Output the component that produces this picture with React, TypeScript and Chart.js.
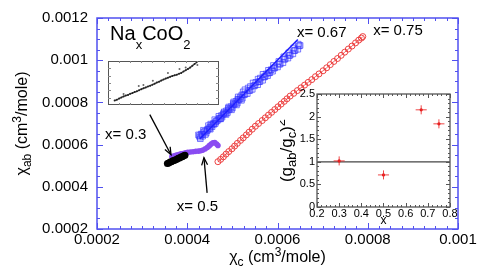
import React, { useEffect, useRef } from 'react';
import { Chart, registerables } from 'chart.js';

Chart.register(...registerables);

const FONT = '"Liberation Sans", Arial, Helvetica, sans-serif';
const FRAME = '#5050f0';
const PURPLE = '#8a4cf2';
const BLUE = 'rgba(45,45,255,0.6)';
const RED = 'rgba(235,50,50,0.9)';

// ---- main plot: chi_ab vs chi_c (cm^3/mole) ----
const xTickValues = [0.0002, 0.0004, 0.0006, 0.0008, 0.001];
const xTickLabels = ['0.0002', '0.0004', '0.0006', '0.0008', '0.001'];
const yTickValues = [0.0002, 0.0004, 0.0006, 0.0008, 0.001, 0.0012];
const yTickLabels = ['0.0002', '0.0004', '0.0006', '0.0008', '0.001', '0.0012'];
const xMinorStep = 0.000025;
const yMinorStep = 0.00005;

// x = 0.3
const chiC30 = [0.000356, 0.000359, 0.000362, 0.000365, 0.000368, 0.000371, 0.000374, 0.000377, 0.00038, 0.000383, 0.000386, 0.000389, 0.000392, 0.000395];
const chiAb30 = [0.000511, 0.000513, 0.000517, 0.000519, 0.000523, 0.000525, 0.000528, 0.000531, 0.000535, 0.000537, 0.000541, 0.000543, 0.000547, 0.00055];

// x = 0.5
const chiC50 = [0.000366, 0.000371, 0.000376, 0.000381, 0.000386, 0.000391, 0.000396, 0.000401, 0.000407, 0.000413, 0.000419, 0.000425, 0.00043, 0.000435, 0.00044, 0.000445, 0.000449, 0.000453, 0.000457, 0.000461, 0.000465, 0.000468];
const chiAb50 = [0.000543, 0.000547, 0.00055, 0.000553, 0.000556, 0.000558, 0.000561, 0.000563, 0.000565, 0.000566, 0.000568, 0.000569, 0.000571, 0.000574, 0.00058, 0.000587, 0.000595, 0.000603, 0.000609, 0.00061, 0.000603, 0.000596];

// x = 0.67
const chiC67 = [0.000428, 0.000431, 0.000425, 0.000434, 0.000437, 0.000442, 0.000436, 0.000445, 0.00045, 0.000447, 0.000455, 0.000458, 0.000452, 0.000463, 0.000461, 0.000468, 0.000473, 0.00047, 0.000477, 0.00048, 0.000484, 0.000482, 0.000489, 0.000492, 0.000495, 0.000492, 0.0005, 0.000503, 0.000506, 0.000503, 0.000511, 0.000514, 0.000517, 0.000513, 0.000522, 0.000526, 0.000528, 0.000524, 0.000533, 0.000537, 0.000539, 0.000535, 0.000544, 0.000548, 0.00055, 0.000546, 0.000556, 0.000559, 0.000561, 0.000557, 0.000567, 0.00057, 0.000572, 0.000568, 0.000578, 0.000581, 0.000583, 0.00058, 0.000589, 0.000592, 0.000594, 0.000591, 0.0006, 0.000604, 0.000606, 0.000603, 0.000612, 0.000615, 0.000617, 0.000614, 0.000623, 0.000626, 0.000628, 0.000625, 0.000634, 0.000637, 0.000639, 0.000636, 0.000645, 0.000648, 0.00065, 0.000646, 0.000528, 0.00054, 0.000552, 0.000562, 0.000575, 0.000586, 0.000427, 0.000433, 0.000439, 0.000444, 0.000449, 0.000454, 0.000459, 0.000465, 0.000471, 0.000476, 0.000481, 0.000487, 0.000491, 0.000497, 0.000502, 0.000508, 0.000512, 0.000518, 0.000521, 0.000429, 0.00044, 0.000451, 0.000462, 0.000474, 0.000486, 0.000498, 0.000509, 0.00052];
const chiAb67 = [0.000635, 0.00065, 0.000646, 0.00064, 0.00066, 0.000655, 0.000668, 0.000672, 0.000682, 0.00069, 0.000685, 0.0007, 0.000697, 0.000708, 0.000718, 0.000716, 0.000723, 0.000734, 0.00073, 0.000744, 0.000746, 0.000755, 0.000752, 0.000765, 0.000769, 0.000778, 0.000774, 0.000789, 0.000793, 0.000802, 0.000797, 0.000812, 0.000816, 0.000826, 0.00082, 0.000836, 0.000839, 0.00085, 0.000842, 0.000856, 0.000857, 0.000868, 0.000862, 0.000878, 0.000881, 0.000892, 0.000884, 0.000898, 0.000899, 0.00091, 0.000905, 0.00092, 0.000922, 0.000933, 0.000927, 0.00094, 0.000941, 0.000952, 0.000948, 0.000962, 0.000964, 0.000975, 0.000968, 0.000981, 0.000982, 0.000994, 0.000988, 0.001004, 0.001006, 0.001016, 0.00101, 0.001022, 0.001024, 0.001035, 0.00103, 0.001045, 0.001047, 0.001058, 0.001052, 0.001068, 0.00107, 0.001076, 0.00086, 0.000875, 0.000895, 0.000915, 0.000935, 0.000955, 0.000642, 0.000648, 0.000662, 0.000666, 0.000676, 0.000692, 0.000696, 0.000712, 0.000725, 0.000738, 0.00075, 0.00076, 0.000772, 0.00078, 0.000795, 0.000805, 0.000815, 0.000826, 0.000835, 0.000628, 0.000648, 0.000673, 0.0007, 0.000722, 0.000743, 0.000765, 0.000788, 0.00081];
const fitC67 = [0.000428, 0.000645];
const fitAb67 = [0.000628, 0.001098];

// x = 0.75
const chiC75 = [0.000468, 0.000474, 0.00048, 0.000486, 0.000492, 0.000499, 0.000505, 0.000511, 0.000518, 0.000524, 0.000531, 0.000537, 0.000544, 0.000551, 0.000558, 0.000566, 0.000573, 0.00058, 0.000587, 0.000594, 0.000601, 0.000608, 0.000615, 0.000621, 0.000628, 0.000636, 0.000644, 0.000652, 0.00066, 0.000668, 0.000676, 0.000684, 0.000692, 0.000701, 0.000709, 0.000717, 0.000725, 0.000733, 0.000741, 0.000749, 0.000757, 0.000765, 0.000773, 0.00078, 0.000786, 0.000789];
const chiAb75 = [0.000519, 0.00053, 0.000542, 0.000555, 0.000567, 0.00058, 0.000593, 0.000606, 0.00062, 0.000632, 0.000646, 0.000659, 0.000673, 0.000687, 0.0007, 0.000714, 0.000727, 0.00074, 0.000753, 0.000766, 0.000779, 0.000792, 0.000805, 0.000817, 0.00083, 0.000843, 0.000856, 0.000869, 0.000882, 0.000895, 0.000908, 0.000922, 0.000935, 0.00095, 0.000964, 0.000979, 0.000994, 0.001008, 0.001023, 0.001038, 0.001053, 0.001067, 0.001082, 0.001095, 0.001105, 0.001112];

// annotations (data coordinates)
const annoText = ['x= 0.3', 'x= 0.5', 'x= 0.67', 'x= 0.75'];
const annoX = [0.000218, 0.000377, 0.000643, 0.000812];
const annoY = [0.000628, 0.000286, 0.00111, 0.001119];
const arrowTailX = [0.000317, 0.000444];
const arrowTailY = [0.000742, 0.000371];
const arrowHeadX = [0.000364, 0.000437];
const arrowHeadY = [0.000552, 0.000538];
const titleX = 0.000229;
const titleY = 0.001098;

// ---- inset 1: close-up of x = 0.3 (arbitrary units) ----
const in1X = [6, 8, 10, 12, 14, 16, 18, 20, 22, 24, 26, 28, 30, 32, 34, 36, 38, 40, 42, 44, 46, 48, 50, 52, 54, 56, 58, 60, 62, 64, 66, 68, 70, 72, 74, 76, 78, 80];
const in1Y = [10, 12, 14.5, 17, 19.5, 21.5, 23, 25.5, 27, 29.5, 31, 33.5, 36, 38, 40, 42, 44, 46, 48.5, 51, 53, 55.5, 58, 60, 62, 64, 66, 67.5, 69, 71, 73, 76, 79, 82, 85, 89, 93, 97];
const in1OutX = [14, 27.7, 31.9, 40.4, 54, 64.4, 70, 80.5];
const in1OutY = [25, 43, 45.7, 55, 73, 82, 85, 91];

// ---- inset 2: (g_ab/g_c)^2 vs x ----
const gX = [0.3, 0.5, 0.67, 0.75];
const gY = [1.02, 0.71, 2.15, 1.84];
const gXErr = [0.025, 0.025, 0.025, 0.025];
const gYErr = [0.1, 0.1, 0.1, 0.1];
const refX = [0.2, 0.8];
const refY = [1, 1];
const gxTickValues = [0.2, 0.3, 0.4, 0.5, 0.6, 0.7, 0.8];
const gxTickLabels = ['0.2', '0.3', '0.4', '0.5', '0.6', '0.7', '0.8'];
const gyTickValues = [0, 0.5, 1, 1.5, 2, 2.5];
const gyTickLabels = ['0', '0.5', '1', '1.5', '2', '2.5'];

const zip = (a: number[], b: number[]) => a.map((v, i) => ({ x: v, y: b[i] }));

type Part = [string, 'n' | 'sub' | 'sup'];
function drawRich(ctx: CanvasRenderingContext2D, parts: Part[], x: number, y: number, size: number, small: number, subDy: number, supDy: number, align: 'left' | 'center') {
  const widths = parts.map(([t, k]) => {
    ctx.font = `${k === 'n' ? size : small}px ${FONT}`;
    return ctx.measureText(t).width;
  });
  const total = widths.reduce((s, w) => s + w, 0);
  let cx = align === 'center' ? x - total / 2 : x;
  ctx.textAlign = 'left';
  ctx.textBaseline = 'alphabetic';
  parts.forEach(([t, k], i) => {
    ctx.font = `${k === 'n' ? size : small}px ${FONT}`;
    const dy = k === 'sub' ? subDy : k === 'sup' ? supDy : 0;
    ctx.fillText(t, cx, y + dy);
    cx += widths[i];
  });
}

function seg(ctx: CanvasRenderingContext2D, x1: number, y1: number, x2: number, y2: number) {
  ctx.beginPath();
  ctx.moveTo(x1, y1);
  ctx.lineTo(x2, y2);
  ctx.stroke();
}

const mainDeco = {
  id: 'mainDeco',
  afterDatasetsDraw(chart: any) {
    const { ctx, chartArea: a } = chart;
    const xs = chart.scales.x;
    const ys = chart.scales.y;
    ctx.save();
    ctx.strokeStyle = FRAME;
    ctx.lineWidth = 1.5;
    ctx.strokeRect(a.left, a.top, a.right - a.left, a.bottom - a.top);
    ctx.lineWidth = 1;
    const nx = Math.round((xs.max - xs.min) / xMinorStep);
    for (let i = 0; i <= nx; i++) {
      const p = Math.round(xs.getPixelForValue(xs.min + i * xMinorStep)) + 0.5;
      const len = i % 8 === 0 ? 6 : 3;
      seg(ctx, p, a.bottom, p, a.bottom - len);
      seg(ctx, p, a.top, p, a.top + len);
    }
    const ny = Math.round((ys.max - ys.min) / yMinorStep);
    for (let i = 0; i <= ny; i++) {
      const p = Math.round(ys.getPixelForValue(ys.min + i * yMinorStep)) + 0.5;
      const len = i % 4 === 0 ? 6 : 3;
      seg(ctx, a.left, p, a.left + len, p);
      seg(ctx, a.right, p, a.right - len, p);
    }
    // arrows
    ctx.strokeStyle = '#000';
    ctx.lineWidth = 1.3;
    for (let i = 0; i < arrowTailX.length; i++) {
      const x1 = xs.getPixelForValue(arrowTailX[i]);
      const y1 = ys.getPixelForValue(arrowTailY[i]);
      const x2 = xs.getPixelForValue(arrowHeadX[i]);
      const y2 = ys.getPixelForValue(arrowHeadY[i]);
      seg(ctx, x1, y1, x2, y2);
      const ang = Math.atan2(y2 - y1, x2 - x1);
      const L = 8;
      const w = 0.38;
      ctx.beginPath();
      ctx.moveTo(x2 - L * Math.cos(ang - w), y2 - L * Math.sin(ang - w));
      ctx.lineTo(x2, y2);
      ctx.lineTo(x2 - L * Math.cos(ang + w), y2 - L * Math.sin(ang + w));
      ctx.stroke();
    }
    // labels
    ctx.fillStyle = '#000';
    ctx.font = `15px ${FONT}`;
    ctx.textAlign = 'left';
    ctx.textBaseline = 'alphabetic';
    annoText.forEach((t, i) => {
      ctx.fillText(t, xs.getPixelForValue(annoX[i]), ys.getPixelForValue(annoY[i]));
    });
    drawRich(ctx, [['Na', 'n'], ['x', 'sub'], ['CoO', 'n'], ['2', 'sub']], xs.getPixelForValue(titleX), ys.getPixelForValue(titleY), 20, 13, 9, -7, 'left');
    // axis titles
    drawRich(ctx, [['χ', 'n'], ['c', 'sub'], [' (cm', 'n'], ['3', 'sup'], ['/mole)', 'n']], (a.left + a.right) / 2, 262, 16, 12, 4, -6, 'center');
    ctx.translate(27, (a.top + a.bottom) / 2);
    ctx.rotate(-Math.PI / 2);
    drawRich(ctx, [['χ', 'n'], ['ab', 'sub'], [' (cm', 'n'], ['3', 'sup'], ['/mole)', 'n']], 0, 0, 16, 12, 4, -6, 'center');
    ctx.restore();
  },
};

const inset1Deco = {
  id: 'inset1Deco',
  beforeDatasetsDraw(chart: any) {
    const { ctx, chartArea: a } = chart;
    ctx.save();
    ctx.fillStyle = '#fff';
    ctx.fillRect(a.left, a.top, a.right - a.left, a.bottom - a.top);
    ctx.restore();
  },
  afterDatasetsDraw(chart: any) {
    const { ctx, chartArea: a } = chart;
    ctx.save();
    ctx.strokeStyle = '#555';
    ctx.lineWidth = 1;
    ctx.strokeRect(a.left + 0.5, a.top + 0.5, a.right - a.left - 1, a.bottom - a.top - 1);
    ctx.strokeStyle = '#888';
    const h = a.bottom - a.top;
    const w = a.right - a.left;
    for (let i = 1; i < 6; i++) {
      const p = Math.round(a.top + (h * i) / 6) + 0.5;
      seg(ctx, a.left, p, a.left + 3, p);
      seg(ctx, a.right, p, a.right - 3, p);
    }
    for (let i = 1; i < 10; i++) {
      const p = Math.round(a.left + (w * i) / 10) + 0.5;
      seg(ctx, p, a.top, p, a.top + 2);
      seg(ctx, p, a.bottom, p, a.bottom - 2);
    }
    ctx.restore();
  },
};

const inset2Deco = {
  id: 'inset2Deco',
  beforeDatasetsDraw(chart: any) {
    const { ctx, chartArea: a } = chart;
    ctx.save();
    ctx.fillStyle = '#fff';
    ctx.fillRect(a.left, a.top, a.right - a.left, a.bottom - a.top);
    ctx.restore();
  },
  afterDatasetsDraw(chart: any) {
    const { ctx, chartArea: a } = chart;
    const xs = chart.scales.x;
    const ys = chart.scales.y;
    ctx.save();
    // error bars
    ctx.strokeStyle = 'rgba(235,40,40,0.85)';
    ctx.lineWidth = 1;
    for (let i = 0; i < gX.length; i++) {
      const px = xs.getPixelForValue(gX[i]);
      const py = ys.getPixelForValue(gY[i]);
      seg(ctx, xs.getPixelForValue(gX[i] - gXErr[i]), py, xs.getPixelForValue(gX[i] + gXErr[i]), py);
      seg(ctx, px, ys.getPixelForValue(gY[i] - gYErr[i]), px, ys.getPixelForValue(gY[i] + gYErr[i]));
    }
    // frame
    ctx.strokeStyle = '#555';
    ctx.lineWidth = 1.3;
    ctx.strokeRect(a.left, a.top, a.right - a.left, a.bottom - a.top);
    ctx.lineWidth = 1;
    for (let i = 0; i <= 30; i++) {
      const p = Math.round(xs.getPixelForValue(0.2 + i * 0.02)) + 0.5;
      const len = i % 5 === 0 ? 4 : 2;
      seg(ctx, p, a.bottom, p, a.bottom - len);
      seg(ctx, p, a.top, p, a.top + len);
    }
    for (let i = 0; i <= 25; i++) {
      const p = Math.round(ys.getPixelForValue(i * 0.1)) + 0.5;
      const len = i % 5 === 0 ? 4 : 2;
      seg(ctx, a.left, p, a.left + len, p);
      seg(ctx, a.right, p, a.right - len, p);
    }
    ctx.restore();
  },
  afterDraw(chart: any) {
    const { ctx, chartArea: a } = chart;
    ctx.save();
    ctx.fillStyle = '#000';
    ctx.font = `12px ${FONT}`;
    ctx.textAlign = 'center';
    ctx.textBaseline = 'alphabetic';
    ctx.fillText('x', (a.left + a.right) / 2, a.bottom + 17);
    ctx.translate(a.left - 25, (a.top + a.bottom) / 2);
    ctx.rotate(-Math.PI / 2);
    drawRich(ctx, [['(g', 'n'], ['ab', 'sub'], ['/g', 'n'], ['c', 'sub'], [')', 'n'], ['2', 'sup']], 0, 0, 17, 13, 4, -7, 'center');
    ctx.restore();
  },
};

export default function App() {
  const mainRef = useRef<HTMLCanvasElement>(null);
  const in1Ref = useRef<HTMLCanvasElement>(null);
  const in2Ref = useRef<HTMLCanvasElement>(null);

  useEffect(() => {
    const charts: Chart[] = [];
    const tickFont = { family: FONT, size: 15 };

    charts.push(
      new Chart(mainRef.current as HTMLCanvasElement, {
        type: 'scatter',
        data: {
          datasets: [
            { label: 'x=0.3', data: zip(chiC30, chiAb30), pointRadius: 3.5, pointBackgroundColor: '#000', pointBorderColor: '#000', pointBorderWidth: 0, order: 1 },
            { label: 'x=0.5', data: zip(chiC50, chiAb50), pointRadius: 2.8, pointBackgroundColor: PURPLE, pointBorderColor: PURPLE, pointBorderWidth: 0, order: 2 },
            { label: 'x=0.67 fit', data: zip(fitC67, fitAb67), showLine: true, borderColor: 'rgba(30,30,255,1)', borderWidth: 1.5, pointRadius: 0, order: 3 },
            { label: 'x=0.67', data: zip(chiC67, chiAb67), pointStyle: 'rect', pointRadius: 4, pointBorderColor: BLUE, pointBackgroundColor: 'rgba(90,90,255,0.1)', pointBorderWidth: 1, order: 4 },
            { label: 'x=0.75', data: zip(chiC75, chiAb75), showLine: true, borderColor: 'rgba(235,50,50,0.75)', borderWidth: 1, pointStyle: 'circle', pointRadius: 3, pointBorderColor: RED, pointBackgroundColor: 'rgba(0,0,0,0)', pointBorderWidth: 1, order: 5 },
          ] as any,
        },
        options: {
          responsive: false,
          animation: false,
          devicePixelRatio: 1,
          events: [],
          layout: { padding: { left: 0, right: 27, top: 13, bottom: 0 } },
          plugins: { legend: { display: false }, tooltip: { enabled: false } },
          scales: {
            x: {
              type: 'linear',
              min: 0.0002,
              max: 0.001,
              afterFit: (s: any) => { s.height = 44; },
              afterBuildTicks: (s: any) => { s.ticks = xTickValues.map((v) => ({ value: v })); },
              grid: { display: false, drawTicks: false },
              border: { display: false },
              ticks: { padding: 2, color: '#000', font: tickFont, maxRotation: 0, autoSkip: false, callback: (_v: any, i: number) => xTickLabels[i] },
            },
            y: {
              type: 'linear',
              min: 0.0002,
              max: 0.0012,
              afterFit: (s: any) => { s.width = 97; },
              afterBuildTicks: (s: any) => { s.ticks = yTickValues.map((v) => ({ value: v })); },
              grid: { display: false, drawTicks: false },
              border: { display: false },
              ticks: { padding: 9, color: '#000', font: tickFont, autoSkip: false, callback: (_v: any, i: number) => yTickLabels[i] },
            },
          },
        } as any,
        plugins: [mainDeco],
      })
    );

    charts.push(
      new Chart(in1Ref.current as HTMLCanvasElement, {
        type: 'scatter',
        data: {
          datasets: [
            { label: 'main', data: zip(in1X, in1Y), showLine: true, borderColor: '#444', borderWidth: 1.3, pointRadius: 1, pointBackgroundColor: '#222', pointBorderWidth: 0 },
            { label: 'scatter', data: zip(in1OutX, in1OutY), pointRadius: 1, pointBackgroundColor: '#666', pointBorderWidth: 0 },
          ] as any,
        },
        options: {
          responsive: false,
          animation: false,
          devicePixelRatio: 1,
          events: [],
          layout: { padding: 0 },
          plugins: { legend: { display: false }, tooltip: { enabled: false } },
          scales: {
            x: { type: 'linear', min: 0, max: 100, display: false },
            y: { type: 'linear', min: 0, max: 100, display: false },
          },
        } as any,
        plugins: [inset1Deco],
      })
    );

    const smallFont = { family: FONT, size: 11 };
    charts.push(
      new Chart(in2Ref.current as HTMLCanvasElement, {
        type: 'scatter',
        data: {
          datasets: [
            { label: 'points', data: zip(gX, gY), pointRadius: 1.6, pointBackgroundColor: '#e01010', pointBorderWidth: 0, order: 1 },
            { label: 'ref', data: zip(refX, refY), showLine: true, borderColor: '#444', borderWidth: 1.2, pointRadius: 0, order: 2 },
          ] as any,
        },
        options: {
          responsive: false,
          animation: false,
          devicePixelRatio: 1,
          events: [],
          layout: { padding: { left: 0, right: 10, top: 9, bottom: 0 } },
          plugins: { legend: { display: false }, tooltip: { enabled: false } },
          scales: {
            x: {
              type: 'linear',
              min: 0.2,
              max: 0.8,
              afterFit: (s: any) => { s.height = 20; },
              afterBuildTicks: (s: any) => { s.ticks = gxTickValues.map((v) => ({ value: v })); },
              grid: { display: false, drawTicks: false },
              border: { display: false },
              ticks: { padding: 0, color: '#000', font: smallFont, maxRotation: 0, autoSkip: false, callback: (_v: any, i: number) => gxTickLabels[i] },
            },
            y: {
              type: 'linear',
              min: 0,
              max: 2.5,
              afterFit: (s: any) => { s.width = 37; },
              afterBuildTicks: (s: any) => { s.ticks = gyTickValues.map((v) => ({ value: v })); },
              grid: { display: false, drawTicks: false },
              border: { display: false },
              ticks: { padding: 2, color: '#000', font: smallFont, autoSkip: false, callback: (_v: any, i: number) => gyTickLabels[i] },
            },
          },
        } as any,
        plugins: [inset2Deco],
      })
    );

    return () => charts.forEach((c) => c.destroy());
  }, []);

  return (
    <div style={{ position: 'fixed', left: 0, top: 0, width: 485, height: 273, background: '#fff', overflow: 'hidden' }}>
      <canvas ref={mainRef} width={485} height={273} style={{ position: 'absolute', left: 0, top: 0, width: 485, height: 273 }} />
      <canvas ref={in1Ref} width={119} height={52} style={{ position: 'absolute', left: 104, top: 57, width: 119, height: 52 }} />
      <canvas ref={in2Ref} width={180} height={142} style={{ position: 'absolute', left: 280, top: 85, width: 180, height: 142 }} />
    </div>
  );
}
